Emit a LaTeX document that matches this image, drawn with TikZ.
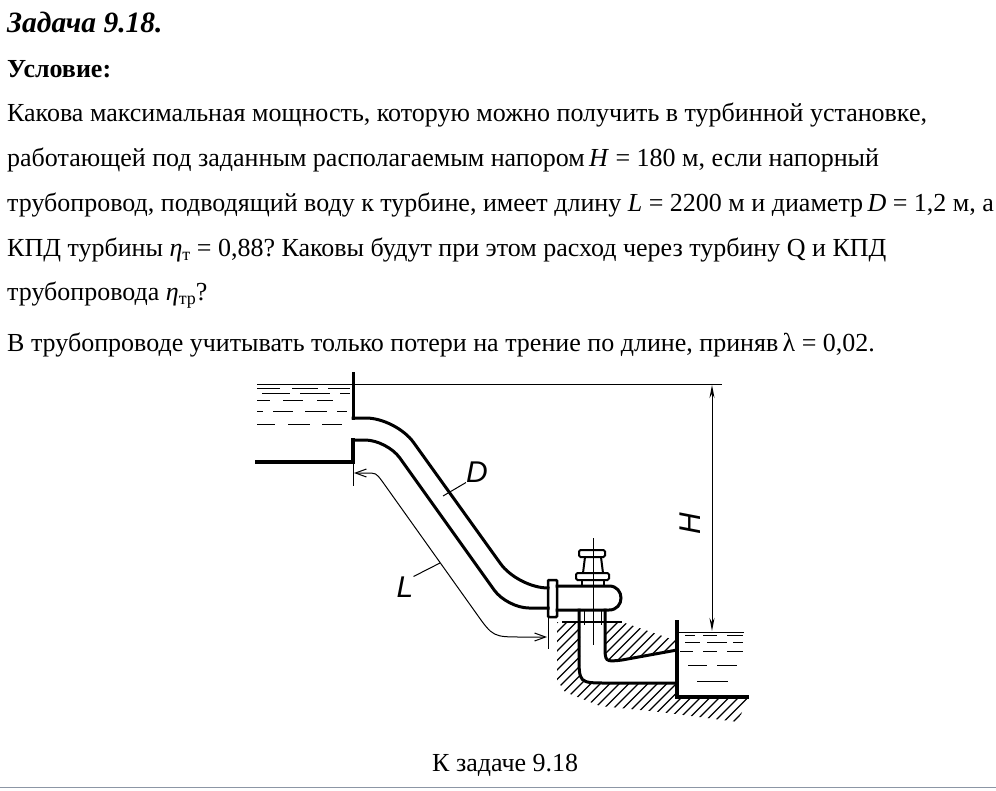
\documentclass[tikz,border=0pt]{standalone}
\usepackage{fontspec}
\setmainfont{Liberation Serif}
\newfontfamily\draftfont{Liberation Sans}
\usetikzlibrary{arrows.meta}
\definecolor{rulegrey}{RGB}{140,150,165}
\newcommand{\lowidx}[1]{\raisebox{-0.35ex}{\fontsize{18}{18}\selectfont #1}}
\frenchspacing

\begin{document}
\begin{tikzpicture}[x=1pt,y=-1pt,
  txt/.style={anchor=base west,inner sep=0pt,font=\fontsize{26}{30}\selectfont},
  lbl/.style={inner sep=0pt,font=\fontsize{30}{30}\selectfont\draftfont\itshape},
  wall/.style={line width=3pt,line cap=rect},
  part/.style={line width=2pt},
  thinline/.style={line width=1pt},
  hatch/.style={line width=1.2pt}]
\useasboundingbox (0,0) rectangle (996,790);
% text of the problem
\node[txt,font=\fontsize{29.5}{34}\selectfont\bfseries\itshape] (title) at (7,32) {Задача 9.18.};
\node[txt,font=\fontsize{26}{30}\selectfont\bfseries] (cond) at (7,77) {Условие:};
\node[txt] (l1) at (7,121) {Какова максимальная мощность, которую можно получить в турбинной установке,};
\node[txt] (l2) at (7,166) {работающей под заданным располагаемым напором\,\textit{H} = 180 м, если напорный};
\node[txt] (l3) at (7,211) {трубопровод, подводящий воду к турбине, имеет длину \textit{L} = 2200 м и диаметр\,\textit{D} = 1,2 м, а};
\node[txt] (l4) at (7,256) {КПД турбины \textit{η}\lowidx{т} = 0,88? Каковы будут при этом расход через турбину Q и КПД};
\node[txt] (l5) at (7,300) {трубопровода \textit{η}\lowidx{тр}?};
\node[txt] (l6) at (7,351) {В трубопроводе учитывать только потери на трение по длине, приняв\,λ = 0,02.};
\node[txt] (caption) at (432,771) {К задаче 9.18};
\draw[line width=1.5pt,rulegrey] (0,787.5) -- (996,787.5);

% hatching
\begin{scope}
\clip (557,622) -- (580,622) -- (580,655) .. controls (580,683) .. (607,683) -- (677,683)
  -- (677,697) -- (748,697) -- (738,722) -- (660,712) -- (600,706) -- (565,692) -- (557,680) -- cycle;
\foreach \a in {430,439.5,...,760} \draw[hatch] (\a,740) -- (\a+140,600);
\end{scope}
\begin{scope}
\clip (605,622) -- (622,622) -- (677,641) -- (677,650) -- (622,660) .. controls (605,662) .. (605,645) -- cycle;
\foreach \a in {560,569.5,...,700} \draw[hatch] (\a,680) -- (\a+80,600);
\end{scope}

% upper reservoir
\draw[thinline] (257,384) -- (722,384);
\draw[thinline] (257,388) -- (280,388) (292,388) -- (318,388) (328,388) -- (350,388);
\draw[thinline] (262,393) -- (290,393) (300,393) -- (330,393) (340,393) -- (350,393);
\draw[thinline] (257,400) -- (270,400) (283,400) -- (303,400) (317,400) -- (333,400);
\draw[thinline] (257,411) -- (263,411) (273,411) -- (293,411) (305,411) -- (327,411) (337,411) -- (347,411);
\draw[thinline] (257,424) -- (275,424) (288,424) -- (310,424) (322,424) -- (342,424);
\draw[wall] (353,373) -- (353,418);
\draw[wall,line width=3.5pt] (257,462) -- (353,462) -- (353,440);

% pipe
\draw[wall,rounded corners=30] (353,418) -- (396,418) -- (518,588) -- (548,588);
\draw[wall,rounded corners=22] (353,440) -- (387,440) -- (507,608) -- (548,608);
\draw[part,line width=2.5pt,rounded corners=1] (548,580) rectangle (557,617);

% turbine
\draw[wall] (557,586) -- (609,586) .. controls (625,586) and (625,610) .. (609,610) -- (557,610);
\draw[part,rounded corners=1.5] (579,550) rectangle (605,557);
\draw[part] (585,557) -- (583,573) (601,557) -- (603,573);
\draw[part,rounded corners=1.5] (576,573) rectangle (609,580);
\draw[part] (582,580) rectangle (604,586);
\draw[thinline] (593,538) -- (593,645);
\draw[thinline] (584,610) -- (584,625) (601,610) -- (601,625);
\draw[line width=1.8pt] (562,622) -- (622,622);

% draft tube
\draw[wall] (579,610) -- (579,655) .. controls (579,683) .. (607,683) -- (677,683);
\draw[wall] (605,610) -- (605,645) .. controls (605,662) .. (622,660) -- (677,650);

% lower reservoir
\draw[wall,line width=3.5pt] (677,622) -- (677,697) -- (747,697);
\draw[thinline] (677,632) -- (744,632);
\draw[thinline] (685,635) -- (695,635) (703,635) -- (717,635) (727,635) -- (743,635);
\draw[thinline] (685,642) -- (700,642) (707,642) -- (727,642) (733,642) -- (743,642);
\draw[thinline] (680,651) -- (693,651) (703,651) -- (717,651) (727,651) -- (743,651);
\draw[thinline] (688,665) -- (707,665) (717,665) -- (737,665);
\draw[thinline] (697,681) -- (728,681);

% dimensions and labels
\draw[thinline] (353,462) -- (353,486);
\draw[thinline] (548,617) -- (548,649);
\draw[thinline,{Straight Barb[length=11pt,width=8pt]}-{Straight Barb[length=11pt,width=8pt]}]
  (354,473) -- (366,473) .. controls (376,473) .. (382,481) -- (476,613)
  .. controls (493,637) .. (523,637) -- (547,637);
\draw[thinline,{Stealth[length=13pt,width=5pt]}-{Stealth[length=13pt,width=5pt]}] (712,385) -- (712,631);
\node[lbl] (D) at (477,472) {D};
\node[lbl] (L) at (405,587) {L};
\node[lbl,rotate=90] (H) at (690,524) {H};
\coordinate (dpipe) at (443,496);
\coordinate (lpath) at (440,563);
\draw[thinline] (dpipe) -- (D.south west);
\draw[thinline] (lpath) -- (L.north east);
\end{tikzpicture}
\end{document}
